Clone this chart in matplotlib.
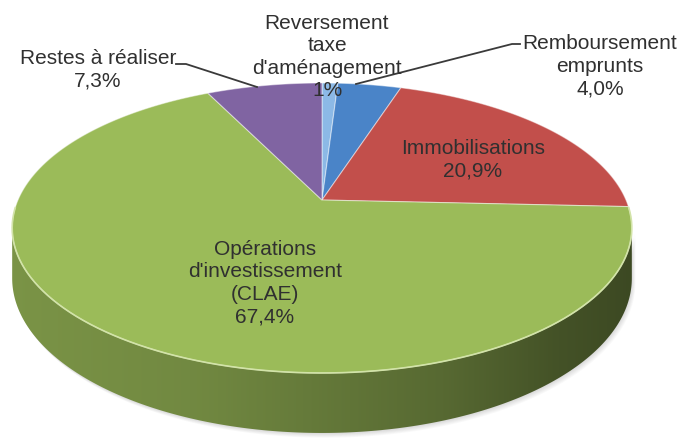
import numpy as np
import matplotlib.pyplot as plt
from matplotlib.patches import Polygon

# données du graphique (sens horaire depuis midi)
labels = ["Reversement\ntaxe\nd'aménagement", "Remboursement\nemprunts", "Immobilisations",
          "Opérations\nd'investissement\n(CLAE)", "Restes à réaliser"]
values = [1.0, 4.0, 20.9, 67.4, 7.3]
pct_text = ["1%", "4,0%", "20,9%", "67,4%", "7,3%"]
colors = ["#8cb9e6", "#4a84c8", "#c24f4b", "#9bbb59", "#8064a2"]

# position des étiquettes (pixels) et lignes de rappel
label_pos = [(327, 57), (600, 66), (473, 160), (265, 283), (98, 70)]
leaders = {1: [(520, 44), (512, 44), (356, 84)],
           4: [(176, 64), (186, 64), (257, 87)]}

# géométrie du camembert 3D (perspective)
cx, cy = 322, 200
A, B, k, D = 304, 139.6, 0.193, 48.4


def proj(theta_deg, drop=0.0):
    t = np.radians(theta_deg)
    u, v = np.sin(t), -np.cos(t)
    f = 1.0 / (1.0 - k * v)
    return cx + A * u * f, cy + (B * v + drop) * f


def shade(xn):
    return np.interp(xn, [0, 0.3, 0.7, 0.88, 1.0], [0.79, 0.73, 0.56, 0.44, 0.39])


fig = plt.figure(figsize=(6.82, 4.41), dpi=100)
ax = fig.add_axes([0, 0, 1, 1])
ax.set_xlim(0, 682)
ax.set_ylim(441, 0)
ax.axis('off')

fr = np.array(values) / sum(values)
edges = np.concatenate([[0], np.cumsum(fr) * 360])
front_r = np.degrees(np.arccos(-k))
front_l = 360 - front_r

# ombre portée
ts = np.linspace(front_r, front_l, 200)
tx, ty = proj(ts)
bx, by = proj(ts, D)
side_x = np.concatenate([tx, bx[::-1]])
side_y = np.concatenate([ty, by[::-1]])
for o in range(1, 7):
    ax.fill(side_x + o * 0.6, side_y + o * 0.8, color='k', alpha=0.025, lw=0, zorder=1)

# faces latérales
for i in range(len(values)):
    t1, t2 = max(edges[i], front_r), min(edges[i + 1], front_l)
    if t2 <= t1:
        continue
    ts = np.linspace(t1, t2, 200)
    tx, ty = proj(ts)
    bx, by = proj(ts, D)
    poly = Polygon(np.column_stack([np.concatenate([tx, bx[::-1]]),
                                    np.concatenate([ty, by[::-1]])]),
                   closed=True, fc='none', ec='none')
    ax.add_patch(poly)
    xs = np.linspace(0, 1, 400)
    base = np.array(plt.matplotlib.colors.to_rgb(colors[i]))
    img = np.clip(base[None, None, :] * shade(xs)[None, :, None], 0, 1)
    x0, _ = proj(front_l)
    x1, _ = proj(front_r)
    im = ax.imshow(img, extent=(x0, x1, 441, 0), aspect='auto', zorder=2)
    im.set_clip_path(poly)

# faces supérieures
for i in range(len(values)):
    ts = np.linspace(edges[i], edges[i + 1], max(int((edges[i + 1] - edges[i]) * 2), 4))
    px, py = proj(ts)
    pts = np.column_stack([np.concatenate([[cx], px]), np.concatenate([[cy], py])])
    ax.add_patch(Polygon(pts, closed=True, fc=colors[i], ec=(1, 1, 1, 0.45), lw=0.8, zorder=3))

# reflet sur le bord avant
ts = np.linspace(front_r - 8, front_l + 8, 200)
hx, hy = proj(ts)
ax.plot(hx, hy, color='#d2e3a8', lw=1.2, zorder=4)

# étiquettes
for i in range(len(values)):
    x, y = label_pos[i]
    ax.text(x, y, labels[i] + "\n" + pct_text[i], ha='center', va='center', fontsize=15,
            family='Liberation Sans', color='#303030', linespacing=1.24, zorder=6)
for pts in leaders.values():
    xs, ys = zip(*pts)
    ax.plot(xs, ys, color='#3a3a3a', lw=1.3, zorder=5)

fig.savefig('out.png', dpi=100)
